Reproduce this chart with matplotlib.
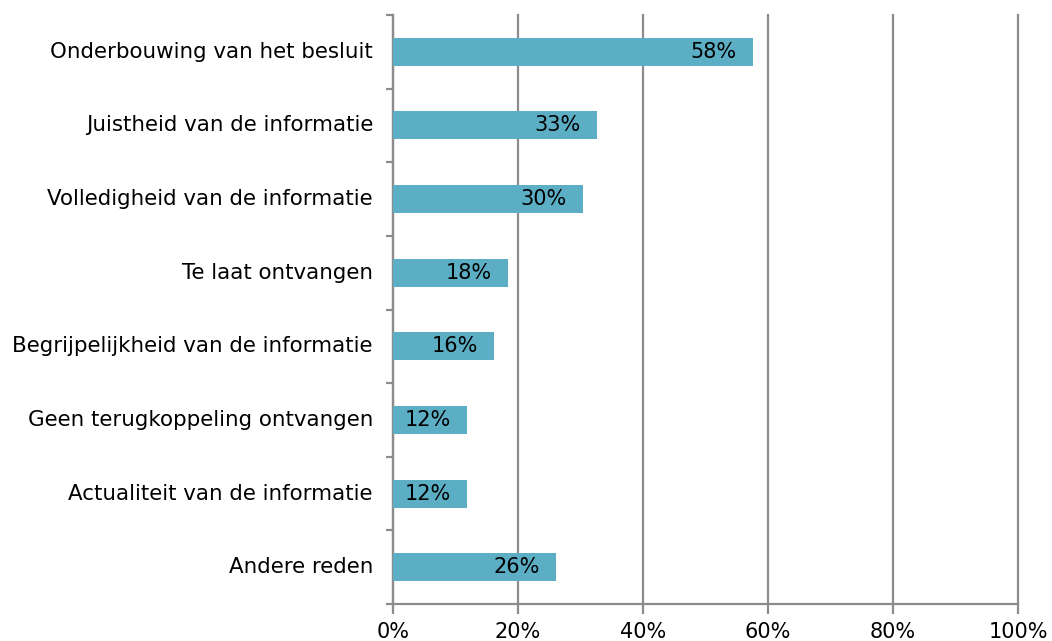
import matplotlib.pyplot as plt
from matplotlib.ticker import FixedLocator, PercentFormatter

categories = [
    "Onderbouwing van het besluit",
    "Juistheid van de informatie",
    "Volledigheid van de informatie",
    "Te laat ontvangen",
    "Begrijpelijkheid van de informatie",
    "Geen terugkoppeling ontvangen",
    "Actualiteit van de informatie",
    "Andere reden",
]
values = [57.6, 32.6, 30.4, 18.4, 16.2, 11.8, 11.8, 26.1]
labels = ["58%", "33%", "30%", "18%", "16%", "12%", "12%", "26%"]

bar_color = "#5BAEC4"
grid_color = "#8C8C8C"
fs = 15

fig = plt.figure(figsize=(10.52, 6.41), dpi=100)
ax = fig.add_axes([393 / 1052, 1 - 604 / 641, 625 / 1052, 589 / 641])

ypos = list(range(len(categories)))
ax.barh(ypos, values, height=0.38, color=bar_color, zorder=3)
for y, v, lab in zip(ypos, values, labels):
    ax.text(v - 6.3, y, lab, ha="center", va="center", fontsize=fs, color="black", zorder=4)

ax.set_xlim(0, 100)
ax.set_ylim(len(categories) - 0.5, -0.5)
ax.xaxis.set_major_locator(FixedLocator([0, 20, 40, 60, 80, 100]))
ax.xaxis.set_major_formatter(PercentFormatter(decimals=0))
ax.grid(axis="x", color=grid_color, linewidth=1.6, zorder=0)
for gl in ax.get_xgridlines():
    gl.set_clip_on(False)

# tick marks between categories, labels drawn as text
ax.set_yticks([y + 0.5 for y in ypos[:-1]] + [-0.5, len(categories) - 0.5])
ax.set_yticklabels([])
for y, c in zip(ypos, categories):
    ax.text(-3.2, y, c, ha="right", va="center", fontsize=15.4, color="black")

for s in ["top", "right"]:
    ax.spines[s].set_visible(False)
for s in ["left", "bottom"]:
    ax.spines[s].set_color(grid_color)
    ax.spines[s].set_linewidth(1.6)
ax.tick_params(axis="y", length=5, width=1.6, color=grid_color)
ax.tick_params(axis="x", length=7, width=1.6, color=grid_color, labelsize=fs, pad=6)

fig.savefig("out.png", dpi=100)
